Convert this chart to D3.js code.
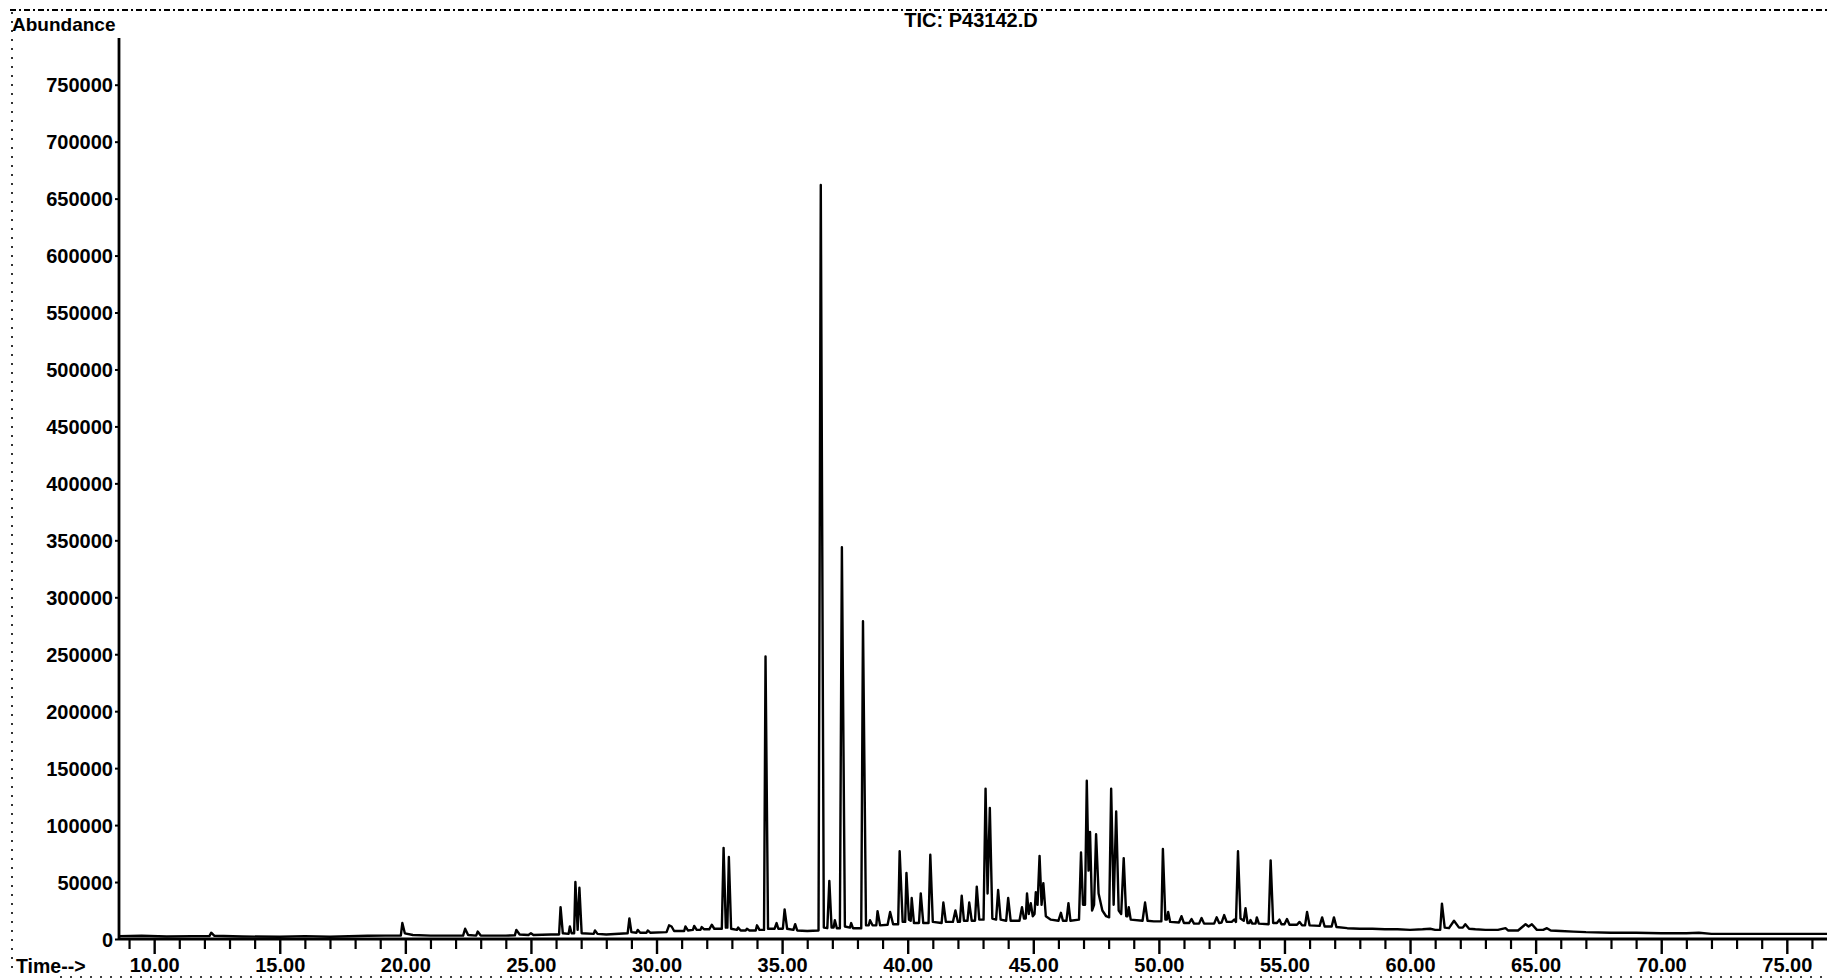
<!DOCTYPE html>
<html>
<head>
<meta charset="utf-8">
<script src="https://cdn.jsdelivr.net/npm/d3@7"></script>
<style>
  html, body { margin: 0; padding: 0; background: #fff; }
  svg { display: block; }
  text { font-family: "Liberation Sans", Arial, sans-serif; font-weight: bold; fill: #000; }
</style>
</head>
<body>
<script>
// ---- data ----
const title = "TIC: P43142.D";
const yLabel = "Abundance";
const xLabel = "Time-->";
const yTickValues = [0, 50000, 100000, 150000, 200000, 250000, 300000, 350000, 400000, 450000, 500000, 550000, 600000, 650000, 700000, 750000];
const xMajorTicks = [10, 15, 20, 25, 30, 35, 40, 45, 50, 55, 60, 65, 70, 75];
const xMinorTicks = [9,11,12,13,14,16,17,18,19,21,22,23,24,26,27,28,29,31,32,33,34,36,37,38,39,41,42,43,44,46,47,48,49,51,52,53,54,56,57,58,59,61,62,63,64,66,67,68,69,71,72,73,74,76];
const timeDomain = [8.6, 76.6];
const abundanceDomain = [0, 791000];

// total ion chromatogram trace: [retention time (min), abundance]
const tic = [
[8.6,2500],[9.5,2800],[10.5,2200],[11.5,2500],[12.2,2500],[12.27,5500],[12.4,2800],[13.5,2200],[15,2000],[16,2500],[17,2000],[18.5,2800],[19.2,3000],
[19.82,3000],[19.88,14000],[19.98,5000],[20.3,3500],[21,3000],[22.3,3000],[22.38,9000],[22.5,3500],[22.82,3000],[22.88,6500],[23.0,3000],[24.0,3000],
[24.36,3200],[24.42,8000],[24.55,4000],[24.9,3500],[25.0,5000],[25.1,3500],[25.8,4000],[26.12,4000],[26.18,28000],[26.27,5000],[26.5,4500],[26.55,11000],
[26.62,5000],[26.72,5000],[26.77,50000],[26.86,8000],[26.93,45000],[27.02,5000],[27.5,4500],[27.55,7500],[27.65,4500],[28.0,4000],[28.85,5000],[28.92,18000],
[29.0,6000],[29.2,5500],[29.25,8000],[29.35,5500],[29.6,5500],[29.65,7500],[29.75,5500],[30.4,6000],[30.5,12000],[30.6,11000],[30.7,7000],[31.1,7000],
[31.15,11000],[31.25,7500],[31.45,8000],[31.5,11500],[31.6,8000],[31.75,8000],[31.8,10500],[31.9,8500],[32.1,8500],[32.2,12500],[32.3,9000],[32.6,9000],
[32.67,80000],[32.76,10000],[32.82,10000],[32.88,72000],[32.97,9000],[33.2,8000],[33.25,10000],[33.35,7500],[33.55,7500],[33.6,9000],[33.7,7500],[33.95,7500],
[34.0,12000],[34.1,8000],[34.28,8000],[34.34,248000],[34.44,9000],[34.7,9000],[34.78,14000],[34.85,9000],[35.03,9000],[35.1,26000],[35.2,9000],[35.45,8000],
[35.52,13000],[35.6,7500],[36.0,7000],[36.45,7500],[36.54,662000],[36.66,10000],[36.8,9500],[36.88,51000],[36.97,10000],[37.05,10000],[37.1,16500],[37.18,9500],
[37.3,9500],[37.38,344000],[37.5,11000],[37.7,10000],[37.75,14000],[37.82,9500],[38.15,9500],[38.22,279000],[38.34,12000],[38.45,12000],[38.5,16500],[38.6,12000],
[38.75,12000],[38.8,24500],[38.9,12000],[39.2,12500],[39.3,23700],[39.42,13000],[39.62,13000],[39.68,77000],[39.8,15000],[39.9,15000],[39.95,58000],[40.05,17000],
[40.12,16000],[40.16,36000],[40.25,14000],[40.45,14000],[40.52,40000],[40.62,14000],[40.83,14000],[40.9,74000],[41.0,15000],[41.35,14000],[41.42,32000],[41.52,15000],
[41.8,15000],[41.9,25000],[42.0,15000],[42.08,15000],[42.15,38000],[42.24,16000],[42.38,16000],[42.45,32000],[42.55,16000],[42.68,16000],[42.75,46000],[42.85,17000],
[43.02,17000],[43.1,132000],[43.18,40000],[43.27,115000],[43.37,18000],[43.52,17000],[43.6,43000],[43.7,17000],[43.92,16000],[44.0,36000],[44.1,16000],[44.45,16000],
[44.55,28000],[44.63,18000],[44.7,18000],[44.75,40000],[44.82,22000],[44.9,31500],[44.98,20000],[45.05,22000],[45.1,41000],[45.17,30000],[45.25,73000],[45.33,30000],
[45.4,49000],[45.5,20000],[45.7,17000],[46.0,16000],[46.1,23000],[46.18,16000],[46.32,16000],[46.4,31500],[46.48,16000],[46.82,17000],[46.9,76000],[46.98,30000],
[47.06,30000],[47.13,139000],[47.2,60000],[47.26,94000],[47.34,25000],[47.42,30000],[47.5,92000],[47.6,40000],[47.75,25000],[47.9,20000],[48.02,19000],[48.1,132000],
[48.2,30000],[48.3,112000],[48.4,25000],[48.5,22000],[48.6,71000],[48.7,20000],[48.75,20000],[48.8,28000],[48.88,17000],[49.35,16000],[49.45,32000],[49.55,16000],
[49.8,15500],[50.1,15500],[50.16,79000],[50.26,17000],[50.32,17000],[50.37,23700],[50.45,15000],[50.8,14500],[50.9,20000],[51.0,14000],[51.2,14000],[51.3,17500],
[51.4,13500],[51.6,13500],[51.7,18400],[51.8,13500],[52.2,13500],[52.3,19000],[52.4,14000],[52.5,14500],[52.6,21000],[52.7,15000],[52.9,15000],[53.0,17000],
[53.07,15000],[53.15,77000],[53.25,18000],[53.38,16000],[53.45,27000],[53.53,14000],[53.6,14000],[53.65,16600],[53.72,13500],[53.85,13500],[53.9,19000],[53.98,13500],
[54.37,13000],[54.45,69000],[54.55,14000],[54.7,14000],[54.8,17000],[54.88,13000],[55.0,13000],[55.1,17500],[55.2,12500],[55.5,12500],[55.6,15000],[55.7,12000],
[55.82,12000],[55.9,23700],[56.0,12000],[56.4,11500],[56.5,19000],[56.6,11000],[56.88,11000],[56.97,19000],[57.07,10500],[57.5,9500],[58.0,9000],[58.5,9000],
[59.0,8500],[59.5,8500],[60.0,8000],[60.5,8500],[60.8,9000],[61.0,8000],[61.2,8000],[61.27,31000],[61.38,10000],[61.55,9500],[61.75,16000],[61.95,10000],
[62.1,10000],[62.2,13000],[62.35,9000],[62.6,8500],[63.0,8000],[63.5,8000],[63.8,9500],[63.9,7500],[64.3,7500],[64.6,13000],[64.72,11000],[64.85,13000],
[65.05,8000],[65.3,8000],[65.45,9500],[65.6,7500],[66.0,7000],[66.5,6500],[67.0,6000],[68.0,5500],[69.0,5500],[70.0,5000],[71.0,5000],[71.5,5500],
[72.0,4500],[74.0,4500],[76.6,4500]
];

// ---- drawing ----
const W = 1827, H = 979;
const FONT = "Liberation Sans, Arial, sans-serif";
const svg = d3.select("body").append("svg").attr("width", W).attr("height", H);

const x = d3.scaleLinear().domain(timeDomain).range([119, 1827]);
const y = d3.scaleLinear().domain(abundanceDomain).range([939, 38]);

// scanned frame remnants (dotted border)
const frame = svg.append("g").attr("stroke", "#000").attr("fill", "none");
frame.append("line").attr("x1", 10).attr("x2", W).attr("y1", 10).attr("y2", 10)
  .attr("stroke-width", 2).attr("stroke-dasharray", "6,3,2,3");
frame.append("line").attr("x1", 12).attr("x2", 12).attr("y1", 12).attr("y2", H - 4)
  .attr("stroke-width", 1.6).attr("stroke-dasharray", "2,7");
frame.append("line").attr("x1", 60).attr("x2", W).attr("y1", 977).attr("y2", 977)
  .attr("stroke-width", 1.6).attr("stroke-dasharray", "2,8");

// Y axis
const yAxis = d3.axisLeft(y).tickValues(yTickValues).tickSize(4).tickPadding(2).tickFormat(d3.format("d"));
const gy = svg.append("g").attr("transform", `translate(${x(timeDomain[0])},0)`).call(yAxis);
gy.select(".domain").attr("stroke-width", 2.8).attr("d", `M0,${y(abundanceDomain[1])}V${y(0)}`);
gy.selectAll(".tick line").attr("stroke-width", 2);
gy.selectAll(".tick text").attr("font-size", 20).attr("font-family", FONT).attr("font-weight", "bold").attr("dy", "0.36em");

// X axis: minor ticks, then major ticks with labels
const xMinor = d3.axisBottom(x).tickValues(xMinorTicks).tickSize(10).tickFormat("");
const gxm = svg.append("g").attr("transform", `translate(0,${y(0)})`).call(xMinor);
gxm.select(".domain").remove();
gxm.selectAll(".tick line").attr("stroke-width", 2.2);

const xAxis = d3.axisBottom(x).tickValues(xMajorTicks).tickSize(15).tickPadding(2).tickFormat(d3.format(".2f"));
const gx = svg.append("g").attr("transform", `translate(0,${y(0)})`).call(xAxis);
gx.select(".domain").attr("stroke-width", 2.8).attr("d", `M${x(timeDomain[0])},0H${W}`);
gx.selectAll(".tick line").attr("stroke-width", 2.4);
gx.selectAll(".tick text").attr("font-size", 20).attr("font-family", FONT).attr("font-weight", "bold").attr("dy", "0.8em");

// Chromatogram trace
const line = d3.line().x(d => x(d[0])).y(d => y(d[1]));
svg.append("path").datum(tic)
  .attr("fill", "none").attr("stroke", "#000").attr("stroke-width", 2.4)
  .attr("stroke-linejoin", "round").attr("d", line);

// Texts
svg.append("text").attr("x", 12).attr("y", 31).attr("font-size", 19).text(yLabel);
svg.append("text").attr("x", 971).attr("y", 27).attr("text-anchor", "middle").attr("font-size", 20).text(title);
svg.append("text").attr("x", 16).attr("y", 973).attr("font-size", 19.5).text(xLabel);
</script>
</body>
</html>
